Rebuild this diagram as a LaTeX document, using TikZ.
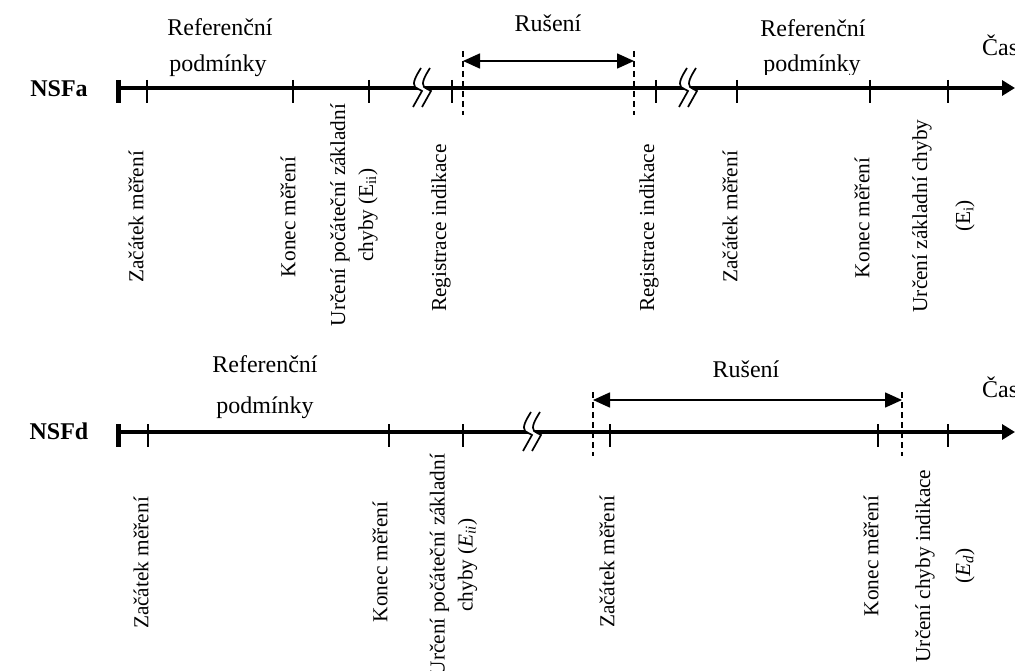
\documentclass[tikz,border=0pt]{standalone}
\usepackage{fontspec}
\setmainfont{Liberation Serif}
\usetikzlibrary{arrows.meta}
\begin{document}
\begin{tikzpicture}[x=1pt,y=-1pt,
  axis/.style={line width=4.5pt},
  bar/.style={line width=5pt},
  tck/.style={line width=1.6pt},
  dsh/.style={line width=1.6pt, dash pattern=on 6pt off 4pt},
  hlab/.style={font=\fontsize{24}{28}\selectfont, inner sep=0pt},
  blab/.style={font=\fontsize{24}{28}\selectfont\bfseries, inner sep=0pt},
  vlab/.style={font=\fontsize{21.3}{28}\selectfont, rotate=90, align=center, inner sep=0pt},
  span/.style={line width=1.6pt, {Triangle[length=17pt,width=15pt]}-{Triangle[length=17pt,width=15pt]}},
  endarrow/.style={-{Triangle[length=13pt,width=15pt]}},
  brk/.pic={
    \fill[white] (1,-20) .. controls (-4,-12) and (-8,-5) .. (-5,-1) .. controls (-3,1) and (1,2) .. (2,3) -- (-7,19) -- (2,19) -- (11,3) .. controls (10,2) and (6,1) .. (4,-1) .. controls (1,-5) and (5,-12) .. (10,-20) -- cycle;
    \draw[line width=1.7pt] (1,-20) .. controls (-4,-12) and (-8,-5) .. (-5,-1) .. controls (-3,1) and (1,2) .. (2,3) -- (-7,19);
    \draw[line width=1.7pt] (10,-20) .. controls (5,-12) and (1,-5) .. (4,-1) .. controls (6,1) and (10,2) .. (11,3) -- (2,19);
  }]
\useasboundingbox (0,0) rectangle (1015,671);

% ================= NSFa =================
\node[blab] (nsfa) at (59,89) {NSFa};
\coordinate (a0) at (118,88);
\coordinate (aE) at (1015,88);
\draw[axis,endarrow] (a0) -- (aE);
\draw[bar] (118.5,80) -- (118.5,103);
\pic at (420,88) {brk};
\pic at (686,88) {brk};
\foreach \x in {147,293,369,452,656,737,870,948}
  \draw[tck] (\x,80) -- (\x,103);
\coordinate (da1) at (463,51);
\coordinate (da2) at (634,51);
\draw[dsh] (da1) -- (463,115);
\draw[dsh] (da2) -- (634,115);
\coordinate (ra1) at (463,61);
\coordinate (ra2) at (634,61);
\draw[span] (ra1) -- (ra2);

\node[hlab, anchor=base] (refa1) at (220,36) {Referenční};
\node[hlab, anchor=base] (poda1) at (218,72) {podmínky};
\node[hlab, anchor=base] (rusa) at (548,32) {Rušení};
\node[hlab, anchor=base] (refa2) at (813,37) {Referenční};
\begin{scope}
  \clip (700,40) rectangle (920,75);
  \node[hlab, anchor=base] (poda2) at (812,72) {podmínky};
\end{scope}
\node[hlab, anchor=base west] (casa) at (982,56) {Čas};

\node[vlab] (za1) at (136,217) {Začátek měření};
\node[vlab] (ka1) at (288,217) {Konec měření};
\node[vlab] (ua1) at (354,215) {Určení počáteční základní\\chyby (E\textsubscript{ii})};
\node[vlab] (rga1) at (441,228) {Registrace indikace};
\node[vlab] (rga2) at (649,228) {Registrace indikace};
\node[vlab] (za2) at (730,217) {Začátek měření};
\node[vlab] (ka2) at (862,218) {Konec měření};
\node[vlab] (ua2) at (943.5,216) {Určení základní chyby\\[15pt](E\textsubscript{i})};

% ================= NSFd =================
\node[blab] (nsfd) at (59,431) {NSFd};
\coordinate (d0) at (118,432);
\coordinate (dE) at (1015,432);
\draw[axis,endarrow] (d0) -- (dE);
\draw[bar] (118.5,424) -- (118.5,447);
\pic at (530,432) {brk};
\foreach \x in {148,389,463,610,878,948}
  \draw[tck] (\x,424) -- (\x,447);
\coordinate (dd1) at (593,392);
\coordinate (dd2) at (902,392);
\draw[dsh] (dd1) -- (593,456);
\draw[dsh] (dd2) -- (902,456);
\coordinate (rd1) at (593,400);
\coordinate (rd2) at (902,400);
\draw[span] (rd1) -- (rd2);

\node[hlab, anchor=base] (refd) at (265,372) {Referenční};
\node[hlab, anchor=base] (podd) at (265,413) {podmínky};
\node[hlab, anchor=base] (rusd) at (746,377) {Rušení};
\node[hlab, anchor=base west] (casd) at (982,397) {Čas};

\node[vlab] (zd1) at (141,563) {Začátek měření};
\node[vlab] (kd1) at (380,562) {Konec měření};
\node[vlab] (ud1) at (453.5,565) {Určení počáteční základní\\chyby (\textit{E}\textsubscript{\textit{ii}})};
\node[vlab] (zd2) at (607,562) {Začátek měření};
\node[vlab] (kd2) at (871,556) {Konec měření};
\node[vlab] (ud2) at (945,566) {Určení chyby indikace\\[12pt](\textit{E}\textsubscript{\textit{d}})};
\end{tikzpicture}
\end{document}
